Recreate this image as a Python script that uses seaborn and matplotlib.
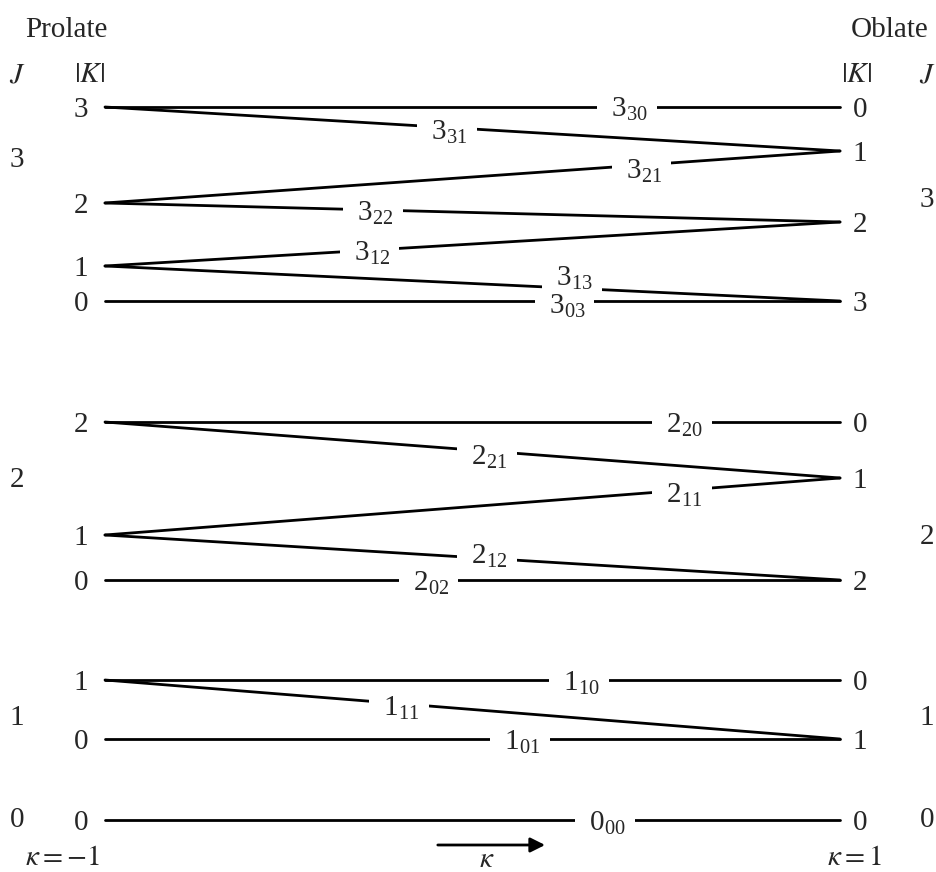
import pandas as pd
import matplotlib
matplotlib.use("Agg")
import matplotlib.pyplot as plt
import seaborn as sns

# energy levels at the two limits (arbitrary units)
prolate_J = [3, 3, 3, 3, 2, 2, 2, 1, 1, 0]
prolate_K = [3, 2, 1, 0, 2, 1, 0, 1, 0, 0]
prolate_E = [71.3, 61.7, 55.4, 51.9, 39.8, 28.5, 24.0, 14.0, 8.1, 0.0]

oblate_J = [3, 3, 3, 3, 2, 2, 2, 1, 1, 0]
oblate_K = [0, 1, 2, 3, 0, 1, 2, 0, 1, 0]
oblate_E = [71.3, 66.9, 59.8, 51.9, 39.8, 34.2, 24.0, 14.0, 8.1, 0.0]

# asymmetric top states J_{Ka Kc}
state_J = [3, 3, 3, 3, 3, 3, 3, 2, 2, 2, 2, 2, 1, 1, 1, 0]
state_Ka = [3, 3, 2, 2, 1, 1, 0, 2, 2, 1, 1, 0, 1, 1, 0, 0]
state_Kc = [0, 1, 1, 2, 2, 3, 3, 0, 1, 1, 2, 2, 0, 1, 1, 0]
label_kappa = [0.42, -0.07, 0.46, -0.27, -0.28, 0.27, 0.25,
               0.57, 0.04, 0.57, 0.04, -0.12, 0.29, -0.20, 0.13, 0.36]
label_dy = [0, -2, -3, -1, -1, 9, -2, -1, -3, -2, 3, -1, -1, -2, -1, -1]

# J group labels at both sides
group_J = [3, 2, 1, 0]
group_E_left = [66.0, 34.0, 10.2, 0.0]
group_E_right = [62.0, 28.3, 10.2, 0.0]


def level(Js, Ks, Es, j, k):
    for a, b, e in zip(Js, Ks, Es):
        if a == j and b == k:
            return e


rows = []
for j, ka, kc in zip(state_J, state_Ka, state_Kc):
    name = f"{j}{ka}{kc}"
    rows.append({"state": name, "kappa": -1.0, "E": level(prolate_J, prolate_K, prolate_E, j, ka)})
    rows.append({"state": name, "kappa": 1.0, "E": level(oblate_J, oblate_K, oblate_E, j, kc)})
df = pd.DataFrame(rows)

sns.set_theme(style="white")
plt.rcParams["font.family"] = ["Liberation Serif", "DejaVu Serif"]
plt.rcParams["mathtext.fontset"] = "stix"

fig = plt.figure(figsize=(9.37, 8.72), dpi=100)
ax = fig.add_axes([0, 0, 1, 1])
sns.lineplot(data=df, x="kappa", y="E", units="state", estimator=None, sort=False,
             color="black", lw=2, legend=False, ax=ax)
ax.set_xlim(-1.2857, 1.2639)
ax.set_ylim(-5.2, 82.0)
ax.axis("off")

fs = 21

# state labels on the lines
for j, ka, kc, kap, dy in zip(state_J, state_Ka, state_Kc, label_kappa, label_dy):
    e0 = level(prolate_J, prolate_K, prolate_E, j, ka)
    e1 = level(oblate_J, oblate_K, oblate_E, j, kc)
    e = e0 + (e1 - e0) * (kap + 1) / 2
    ax.annotate(r"  $\mathregular{%d_{%d%d}}$  " % (j, ka, kc), xy=(kap, e),
                xytext=(0, -7 + dy), textcoords="offset points",
                ha="center", va="baseline", fontsize=fs, zorder=5,
                bbox=dict(facecolor="white", edgecolor="none", pad=0))

# |K| values at both ends
for k, e in zip(prolate_K, prolate_E):
    ax.annotate(str(k), xy=(-1, e), xytext=(-12, -7), textcoords="offset points",
                ha="right", va="baseline", fontsize=fs)
for k, e in zip(oblate_K, oblate_E):
    ax.annotate(str(k), xy=(1, e), xytext=(9, -7), textcoords="offset points",
                ha="left", va="baseline", fontsize=fs)

# J values
for j, el, er in zip(group_J, group_E_left, group_E_right):
    ax.text(-1.2395, el, str(j), ha="center", va="center", fontsize=fs)
    ax.text(1.237, er, str(j), ha="center", va="center", fontsize=fs)

# headers
ax.text(-1.106, 79.0, "Prolate", ha="center", va="center", fontsize=fs)
ax.text(1.136, 79.0, "Oblate", ha="center", va="center", fontsize=fs)
ax.text(-1.2395, 74.5, r"$J$", ha="center", va="center", fontsize=fs)
ax.text(-1.041, 74.5, r"$|K|$", ha="center", va="center", fontsize=fs)
ax.text(1.046, 74.5, r"$|K|$", ha="center", va="center", fontsize=fs)
ax.text(1.237, 74.5, r"$J$", ha="center", va="center", fontsize=fs)

# bottom axis hints
ax.text(-1.117, -3.8, r"$\kappa = -1$", ha="center", va="center", fontsize=fs)
ax.text(1.04, -3.8, r"$\kappa = 1$", ha="center", va="center", fontsize=fs)
ax.annotate("", xy=(0.205, -2.5), xytext=(-0.102, -2.5),
            arrowprops=dict(arrowstyle="-|>", color="black", lw=2, mutation_scale=22))
ax.text(0.04, -4.0, r"$\kappa$", ha="center", va="center", fontsize=fs)

fig.savefig("out.png", dpi=100)
